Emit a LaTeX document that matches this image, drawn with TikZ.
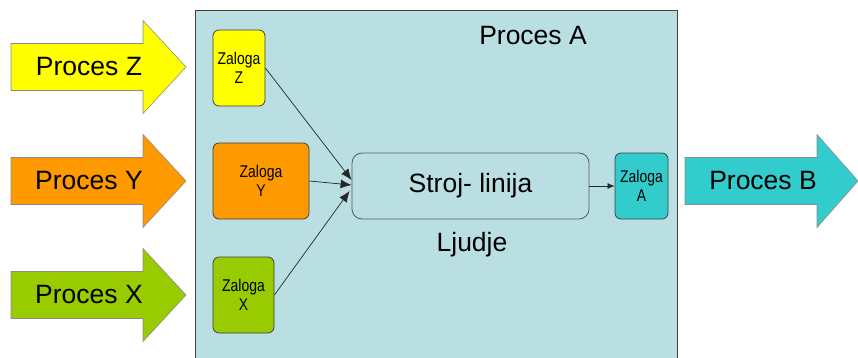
\documentclass[tikz,border=0pt]{standalone}
\usepackage{fontspec}
\setmainfont{Liberation Sans}
\newfontfamily\narrowfont{Liberation Sans}[FakeStretch=0.82]
\usetikzlibrary{arrows.meta,calc}
\definecolor{bgA}{RGB}{185,223,227}
\definecolor{cZ}{RGB}{255,255,0}
\definecolor{cY}{RGB}{255,153,0}
\definecolor{cX}{RGB}{153,204,0}
\definecolor{cA}{RGB}{51,204,204}
\tikzset{
  bigarrow/.style={draw=black!45, line width=0.6pt},
  bigtext/.style={font=\fontsize{26.5}{30}\selectfont, inner sep=0pt},
  stockbox/.style={draw=black!75, line width=0.8pt, rounded corners=6pt, inner sep=0pt,
    align=center, font=\narrowfont\fontsize{17}{19.5}\selectfont},
  linebox/.style={draw=black!65, line width=0.8pt, rounded corners=10pt, inner sep=0pt},
  conn/.style={draw=black!85, line width=0.7pt, -{Latex[length=11pt,width=9pt]}},
  connsmall/.style={draw=black!85, line width=0.7pt, -{Latex[length=7pt,width=6pt]}}
}
\newcommand{\procarrow}[5]{% colour, x0, yc, xhead, xtip
  \path[bigarrow,fill=#1] (#2,#3-23.5) -- (#4,#3-23.5) -- (#4,#3-46.5) -- (#5,#3)
    -- (#4,#3+46.5) -- (#4,#3+23.5) -- (#2,#3+23.5) -- cycle;}
\begin{document}
\begin{tikzpicture}[x=1pt,y=-1pt]
\useasboundingbox (0,0) rectangle (858,357);
\clip (0,0) rectangle (858,357);
% big process box
\path[draw=black!75, line width=0.9pt, fill=bgA] (195,10) rectangle (677,370);
% input/output arrows
\procarrow{cZ}{11}{67}{143}{186}
\procarrow{cY}{11}{181}{143}{186}
\procarrow{cX}{11}{295}{143}{186}
\procarrow{cA}{685}{181}{817}{858}
\node[bigtext] (pz) at (89,67) {Proces Z};
\node[bigtext] (py) at (89,181) {Proces Y};
\node[bigtext] (px) at (89,295) {Proces X};
\node[bigtext] (pb) at (763,181) {Proces B};
\node[bigtext] (pa) at (533,36) {Proces A};
% stocks
\node[stockbox, fill=cZ, minimum width=52pt, minimum height=76pt] (zz) at (239,68) {Zaloga\\Z};
\node[stockbox, fill=cY, minimum width=96pt, minimum height=76pt] (zy) at (261,181) {Zaloga\\Y};
\node[stockbox, fill=cX, minimum width=61pt, minimum height=76pt] (zx) at (243.5,295) {Zaloga\\X};
\node[stockbox, fill=cA, minimum width=53pt, minimum height=66pt] (za) at (641.5,186) {Zaloga\\A};
% line
\node[linebox, minimum width=237pt, minimum height=66pt, bigtext] (stroj) at (470.5,186) {Stroj- linija};
\node[bigtext] (ljudje) at (472,245) {Ljudje};
% connectors
\draw[conn] (zz.east) -- ($(stroj.west)+(0,-6)$);
\draw[conn] (zy.east) -- ($(stroj.west)+(0,-1)$);
\draw[conn] (zx.east) -- ($(stroj.west)+(-2,5)$);
\draw[connsmall] (stroj.east) -- (za.west);
\end{tikzpicture}
\end{document}
